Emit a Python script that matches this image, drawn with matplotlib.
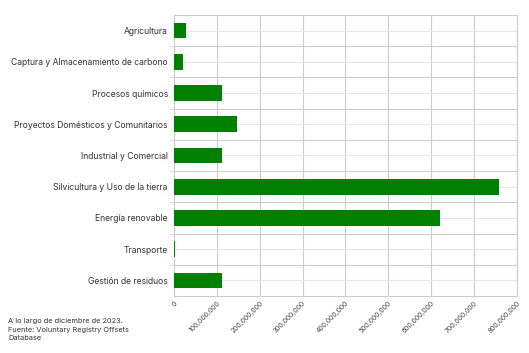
import matplotlib
matplotlib.use('Agg')
import matplotlib.pyplot as plt
from matplotlib.ticker import FuncFormatter

# sectors, top to bottom as drawn
sectores = [
    "Agricultura",
    "Captura y Almacenamiento de carbono",
    "Procesos químicos",
    "Proyectos Domésticos y Comunitarios",
    "Industrial y Comercial",
    "Silvicultura y Uso de la tierra",
    "Energía renovable",
    "Transporte",
    "Gestión de residuos",
]
creditos = [28e6, 21e6, 112e6, 147e6, 111e6, 758e6, 620e6, 1.5e6, 111e6]
xticks = [0, 100e6, 200e6, 300e6, 400e6, 500e6, 600e6, 700e6, 800e6]
nota = "A lo largo de diciembre de 2023.\nFuente: Voluntary Registry Offsets\nDatabase"

plt.rcParams['font.family'] = ['Inter', 'DejaVu Sans']

fig = plt.figure(figsize=(5.29, 3.53), dpi=100)
ax = fig.add_axes([0.329, 0.1615, 0.648, 0.796])

pos = list(range(len(sectores)))
ax.barh(pos, creditos, height=0.5, color='#008000', zorder=3)
ax.set_ylim(len(sectores) - 0.5, -0.5)
ax.set_xlim(0, 800e6)

ax.set_yticks(pos)
ax.set_yticklabels(sectores, fontsize=6.2, color='#333333')
ax.set_yticks([p + 0.5 for p in pos[:-1]], minor=True)
ax.tick_params(axis='y', which='major', length=0, pad=4.5)
ax.tick_params(axis='y', which='minor', length=3, color='#cccccc')

ax.set_xticks(xticks)
ax.xaxis.set_major_formatter(FuncFormatter(lambda v, p: f"{int(v):,}"))
ax.tick_params(axis='x', length=0, pad=3, labelsize=4.9, labelcolor='#444444')
for lab in ax.get_xticklabels():
    lab.set_rotation(45)
    lab.set_ha('right')
    lab.set_va('top')
    lab.set_rotation_mode('anchor')

ax.grid(axis='x', color='#cccccc', linewidth=0.8, zorder=0)
ax.grid(axis='y', which='major', color='#e6e6e6', linewidth=0.8, zorder=0)
ax.grid(axis='y', which='minor', color='#cccccc', linewidth=0.8, zorder=0)
for s in ax.spines.values():
    s.set_color('#cccccc')
    s.set_linewidth(0.8)

fig.text(8 / 529, 1 - 318 / 353, nota, fontsize=5.3, color='#333333', va='top', ha='left', linespacing=1.55)

fig.savefig('out.png', dpi=100)
plt.close('all')
